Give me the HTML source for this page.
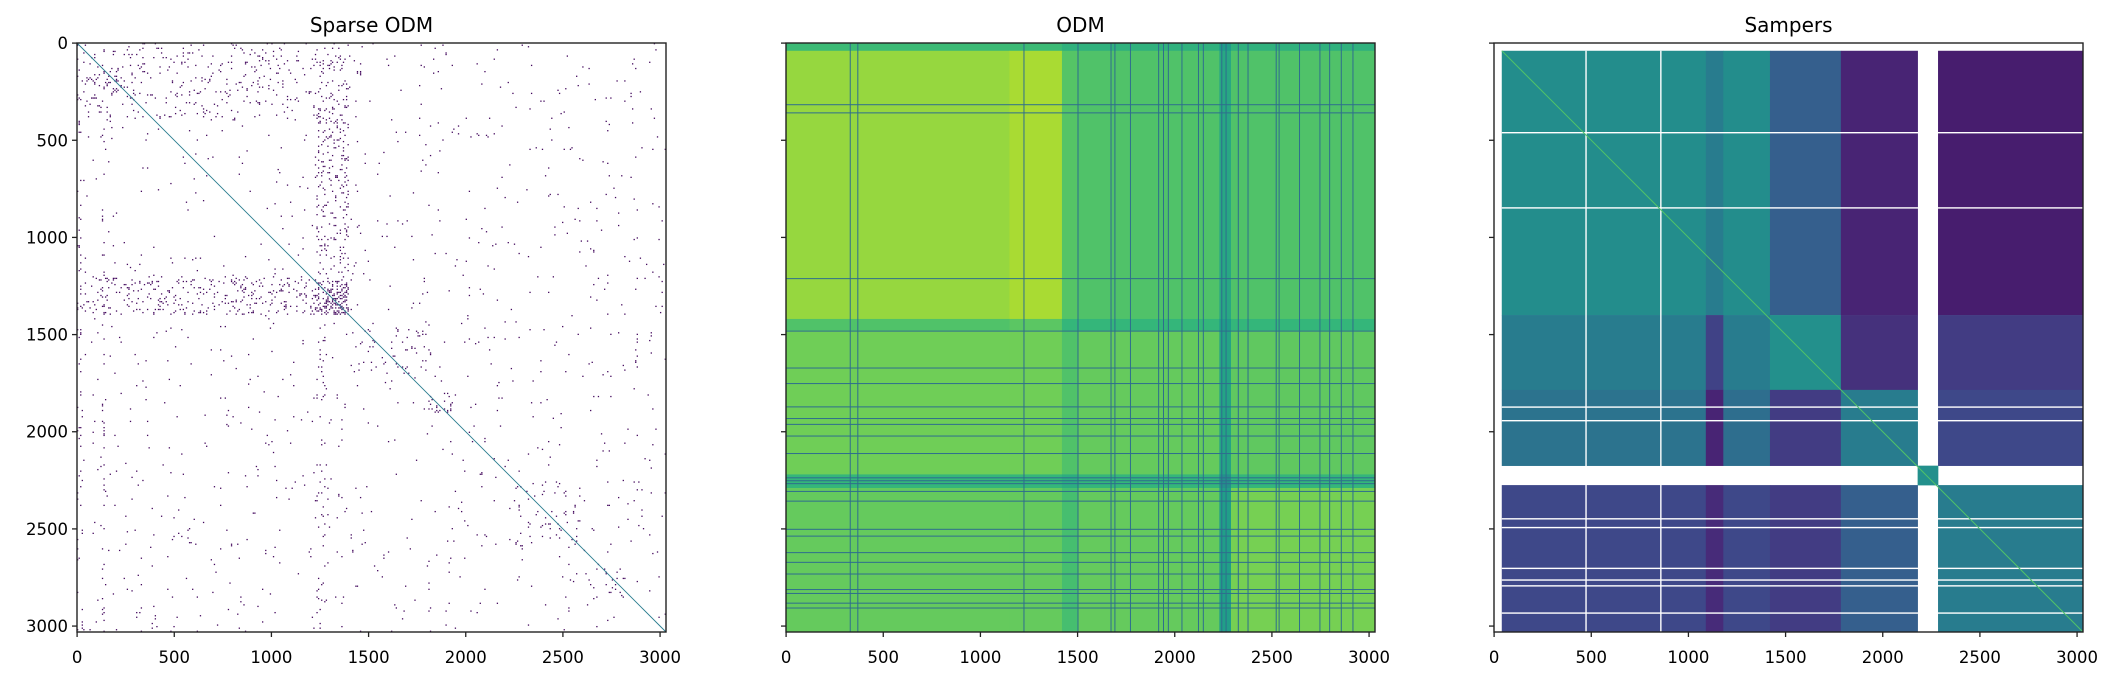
<!DOCTYPE html>
<html><head><meta charset="utf-8">
<style>
html,body{margin:0;padding:0;background:#fff;}
svg{display:block;}
text{font-family:"DejaVu Sans","Liberation Sans",sans-serif;fill:#000;}
</style></head>
<body>
<svg id="fig" xmlns="http://www.w3.org/2000/svg" width="2115" height="680" viewBox="0 0 2115 680"></svg>
<script>
// ---- data ----
const N = 3031;
const panelTitles = ["Sparse ODM", "ODM", "Sampers"];
const tickValues = [0, 500, 1000, 1500, 2000, 2500, 3000];

// ODM panel: block structure
const odmRowEdges = [0, 40, 1420, 1480, 2220, 2290, 3031];
const odmColEdges = [0, 1150, 1420, 1500, 2230, 2290, 3031];
const odmValues = [
  [0.68, 0.68, 0.64, 0.64, 0.55, 0.64],
  [0.84, 0.87, 0.73, 0.72, 0.60, 0.72],
  [0.72, 0.74, 0.66, 0.66, 0.55, 0.66],
  [0.78, 0.78, 0.72, 0.76, 0.58, 0.75],
  [0.66, 0.66, 0.62, 0.66, 0.50, 0.66],
  [0.76, 0.76, 0.70, 0.76, 0.56, 0.79]
];
const odmHLines = [315, 357, 1210, 1480, 1670, 1750, 1870, 1930, 1960, 2020, 2110, 2235, 2250, 2265, 2305, 2355, 2500, 2535, 2620, 2670, 2730, 2810, 2830, 2880, 2905];
const odmVLines = [328, 367, 1222, 1500, 1670, 1690, 1770, 1915, 1940, 1965, 2035, 2120, 2145, 2240, 2262, 2325, 2375, 2520, 2535, 2640, 2745, 2795, 2855, 2915];

// Sampers panel: block structure (null = missing / white)
const spRowEdges = [0, 40, 1400, 1785, 2175, 2275, 3031];
const spColEdges = [0, 40, 1090, 1180, 1420, 1785, 2180, 2285, 3031];
const spValues = [
  [null, null, null, null, null, null, null, null],
  [null, 0.49, 0.42, 0.49, 0.30, 0.10, null, 0.08],
  [null, 0.42, 0.20, 0.42, 0.50, 0.14, null, 0.18],
  [null, 0.38, 0.10, 0.36, 0.18, 0.42, null, 0.22],
  [null, null, null, null, null, null, 0.50, null],
  [null, 0.22, 0.12, 0.22, 0.18, 0.30, null, 0.42]
];
const spWhiteRows = [458, 845, 1870, 1940, 2445, 2490, 2700, 2760, 2790, 2930];
const spWhiteCols = [470, 855];

// Sparse ODM panel: density regions [row0,row1,col0,col1,density]
const sparseRegions = [
  [0, 3031, 0, 3031, 0.008],
  [0, 1400, 1230, 1400, 0.10],
  [1200, 1400, 0, 1400, 0.09],
  [1220, 1400, 1230, 1400, 0.35],
  [0, 400, 0, 1400, 0.05],
  [1400, 3031, 1230, 1290, 0.04],
  [0, 3031, 125, 140, 0.07],
  [0, 3031, 0, 30, 0.05],
  [150, 300, 0, 300, 0.10],
  [1450, 1700, 1450, 1800, 0.04],
  [1800, 1900, 1800, 1950, 0.08],
  [2250, 2600, 2250, 2600, 0.04],
  [2700, 2850, 2700, 2850, 0.06]
];

// ---- colormap ----
const vir = ["#440154","#482878","#3e4989","#31688e","#26828e","#1f9e89","#35b779","#6ece58","#b5de2b","#fde725"];
function hex(c){return [parseInt(c.slice(1,3),16),parseInt(c.slice(3,5),16),parseInt(c.slice(5,7),16)];}
function viridis(t){
  t=Math.max(0,Math.min(1,t)); const f=t*(vir.length-1); const i=Math.min(vir.length-2,Math.floor(f)); const u=f-i;
  const a=hex(vir[i]),b=hex(vir[i+1]);
  return "rgb("+a.map((v,k)=>Math.round(v+(b[k]-v)*u)).join(",")+")";
}

// ---- layout ----
const NS="http://www.w3.org/2000/svg";
const svg=document.getElementById("fig");
const panelLeft=[77,786,1494], top0=43, size=589;
const sc=size/N;
function xs(p,v){return panelLeft[p]+v*sc;}
function ys(v){return top0+v*sc;}
function el(tag,attrs,parent){const e=document.createElementNS(NS,tag);for(const k in attrs)e.setAttribute(k,attrs[k]);(parent||svg).appendChild(e);return e;}

function drawBlocks(p,rowE,colE,vals,name){
  const g=el("g",{});
  
  
  for(let i=0;i<rowE.length-1;i++)for(let j=0;j<colE.length-1;j++){
    const v=vals[i][j]; if(v===null) continue;
    const r=el("rect",{x:xs(p,colE[j]),y:ys(rowE[i]),width:(colE[j+1]-colE[j])*sc+0.3,height:(rowE[i+1]-rowE[i])*sc+0.3,fill:viridis(v)},g);
    
    
  }
  return g;
}

// Panel 2: ODM
const g2=drawBlocks(1,odmRowEdges,odmColEdges,odmValues,"odm");
odmHLines.forEach(r=>{const l=el("rect",{x:xs(1,0),y:ys(r),width:size,height:1,fill:viridis(0.36)},g2);
  
  });
odmVLines.forEach(c=>{const l=el("rect",{x:xs(1,c),y:ys(0),width:1,height:size,fill:viridis(0.36)},g2);
  
  });

// Panel 3: Sampers
const g3=drawBlocks(2,spRowEdges,spColEdges,spValues,"sampers");
spWhiteRows.forEach(r=>{const l=el("rect",{x:xs(2,40),y:ys(r),width:(N-40)*sc,height:1.4,fill:"#fff"},g3);
  
  });
spWhiteCols.forEach(c=>{const l=el("rect",{x:xs(2,c),y:ys(40),width:1.4,height:(N-40)*sc,fill:"#fff"},g3);
  
  });
const d3=el("line",{x1:xs(2,40),y1:ys(40),x2:xs(2,N),y2:ys(N),stroke:viridis(0.72),"stroke-width":1},g3);



// Panel 1: Sparse ODM dots (deterministic lattice thinning by density)
const g1=el("g",{});


function hsh(a,b){let h=(a*73856093)^(b*19349663);h=(h^(h>>>13))*1274126177;h=h^(h>>>16);return ((h>>>0)%10000)/10000;}
const step=8;
for(let r=0;r<N;r+=step)for(let c=0;c<N;c+=step){
  let d=0; sparseRegions.forEach(q=>{if(r>=q[0]&&r<q[1]&&c>=q[2]&&c<q[3])d=Math.max(d,q[4]);});
  if(hsh(r,c)<d){el("rect",{x:xs(0,c),y:ys(r),width:1.3,height:1.3,fill:"#440a5e"},g1);}
}
const d1=el("line",{x1:xs(0,0),y1:ys(0),x2:xs(0,N),y2:ys(N),stroke:viridis(0.42),"stroke-width":0.9},g1);



// Axes
for(let p=0;p<3;p++){
  const ax=el("g",{});
  
  
  const fr=el("rect",{x:panelLeft[p],y:top0,width:size,height:size,fill:"none",stroke:"#222","stroke-width":1.4},ax);
  
  
  const t=el("text",{x:panelLeft[p]+size/2,y:32,"text-anchor":"middle","font-size":"20px"},ax);
  t.textContent=panelTitles[p];
  
  
  tickValues.forEach(v=>{
    const x=xs(p,v+0.5), y=ys(v+0.5);
    el("line",{x1:x,y1:top0+size,x2:x,y2:top0+size+5,stroke:"#222","stroke-width":1.3},ax);
    el("line",{x1:panelLeft[p]-5,y1:y,x2:panelLeft[p],y2:y,stroke:"#222","stroke-width":1.3},ax);
    const tx=el("text",{x:x,y:663,"text-anchor":"middle","font-size":"16.5px"},ax);
    tx.textContent=v;
    
    
    if(p===0){
      const ty=el("text",{x:panelLeft[p]-9,y:y+6,"text-anchor":"end","font-size":"16.5px"},ax);
      ty.textContent=v;
      
      
    }
  });
}
</script>
</body></html>
